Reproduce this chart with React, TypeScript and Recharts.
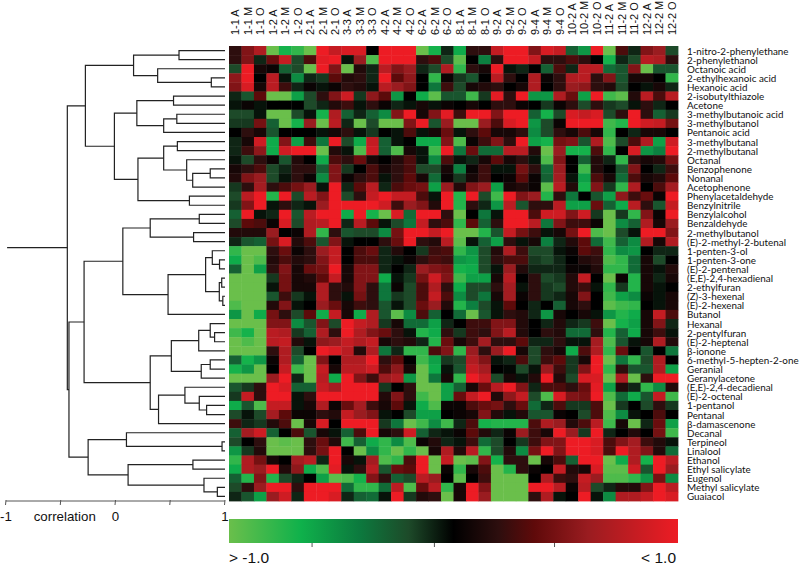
import React from "react";
import { ScatterChart, Scatter, BarChart, Bar, XAxis, YAxis } from "recharts";

const COLUMNS = [
  "1-1 A", "1-1 M", "1-1 O", "1-2 A", "1-2 M", "1-2 O", "2-1 A", "2-1 M", "2-1 O",
  "3-3 A", "3-3 M", "3-3 O", "4-2 A", "4-2 M", "4-2 O", "6-2 A", "6-2 M", "6-2 O",
  "8-1 A", "8-1 M", "8-1 O", "9-2 A", "9-2 M", "9-2 O", "9-4 A", "9-4 M", "9-4 O",
  "10-2 A", "10-2 M", "10-2 O", "11-2 A", "11-2 M", "11-2 O", "12-2 A", "12-2 M", "12-2 O",
];

const COMPOUNDS = [
  "1-nitro-2-phenylethane", "2-phenylethanol", "Octanoic acid", "2-ethylhexanoic acid", "Hexanoic acid",
  "2-isobutylthiazole", "Acetone", "3-methylbutanoic acid", "3-methylbutanol", "Pentanoic acid",
  "3-methylbutanal", "2-methylbutanal", "Octanal", "Benzophenone", "Nonanal",
  "Acetophenone", "Phenylacetaldehyde", "Benzylnitrile", "Benzylalcohol", "Benzaldehyde",
  "2-methylbutanol", "(E)-2-methyl-2-butenal", "1-penten-3-ol", "1-penten-3-one", "(E)-2-pentenal",
  "(E,E)-2,4-hexadienal", "2-ethylfuran", "(Z)-3-hexenal", "(E)-2-hexenal", "Butanol",
  "Hexanal", "2-pentylfuran", "(E)-2-heptenal", "β-ionone", "6-methyl-5-hepten-2-one",
  "Geranial", "Geranylacetone", "(E,E)-2,4-decadienal", "(E)-2-octenal", "1-pentanol",
  "Pentanal", "β-damascenone", "Decanal", "Terpineol", "Linalool",
  "Ethanol", "Ethyl salicylate", "Eugenol", "Methyl salicylate", "Guaiacol",
];

// correlation values in tenths, one row per compound
const VALUES = [
  [2, 5, 7, -10, -7, -8, -10, 10, 8, 9, 9, 0, 10, 10, 10, -10, -7, -1, -6.5, 2, 2, 8, 10, 10, 5, 9, 8, -3, -5.5, 10, -10, 3, -1, 5, 6, -2],
  [2, 5, -1, 4, 8, -2, 3, 9.5, 10, -0.5, 6, -9, 10, 10, 10, 2, 3, -2, -9.5, 0, -4.5, 2, 10, 10, 8, 2, 2, 3, 2, 0, -7, -1, -2, 7.5, 7, 2],
  [-2, 10, 1, 0.5, -3, -2, -10, 10, 5, -10, 1.5, -1, 7.5, 5, 6, -1, -2, 7, -8, 2, 1, 10, -0.5, -1, 0, -3, 3, -1, 7.5, 7.5, -3.5, -2.5, 5, -10, -2.5, -2.5],
  [5.5, 10, 0, 7.5, -0.5, -5, -1, -1.5, 3.5, 1.5, 2, -1, 10, 3.5, 5.5, 0, -8, 0.5, -1.5, -2.5, 0, 7.5, 2, 0, 7, 0.5, 2, 7, 7.5, 2, 5, -2.5, 1, 1, 0, -8],
  [5, 9, 1, 7.5, 2.5, -1, 0.5, -0.5, 0.5, 2, 1.5, -0.5, 7.5, 6, 5, 0, -4, 2.5, -2, 1, 1.5, 2, 0, 1, 7, 0, 2, 6, 5.5, 2, 1.5, -2, 0, -0.5, 1, -1],
  [-1, -2.5, 3.5, -10, -10, -6, -2, 2, 5, 8.5, -1.5, 5.5, 3.5, -5.5, 0, -6.5, -9.5, -2.5, -2.5, -8.5, -1.5, 9.5, 2, 10, -5.5, -5.5, 7, 4, -6, 10, -8.5, -9.5, 1.5, 7.5, 3, 7.5],
  [-0.5, 0.5, -0.5, 0, 0, 0, -2, -1, 1.5, 2.5, -0.5, 2, 0.5, -1, -0.5, 1, -0.5, 0.5, 0, 1, 0, 2, 2, 0.5, 0, -1.5, 0.5, 2, -2, 2, -1.5, -2, -0.5, 2, -1, 0],
  [-2, -2, -0.5, -10, -10, -2, -0.5, -7, 7, -3, -1, -3, -5, 5, 10, 1, 5, 9.5, 2.5, 10, 10, 5, 10, 10, -3, -7, -2, 9, 8, 9, -2, 2, 10, 2, -3, -1.5],
  [-1.5, -1.5, 4.5, -3, -10, -7, 6, -10, 7.5, -1, -10, -2, -10, -10, 5, 10, -2.5, 6, -10, -10, 6, 3, 9, 10, -5.5, -2, 0.5, 10, 10, 10, -8.5, -7.5, 10, 8.5, 8, 4.5],
  [0, 2, 1, -2.5, 0, 0, 0, -0.5, 1, 2, -0.5, -1.5, 0, -0.5, 3, -0.5, 1, 4, -0.5, 2, 3.5, 1, 1, 2, -5, -2, 2, 1, 3, 1, -8, 0, -1, 1, 1, 0],
  [-1, 1, 8.5, -6.5, 5, -6, 2.5, -4, 10, -2, -6.5, 8, -3, -0.5, 0, -6.5, -6.5, 5, -9, 0.5, 2.5, 5, 2, 10, -6, -7, 4.5, 5, -2.5, 7, -9, -2, 3, 7, -6, 8.5],
  [-1, 2.5, 5.5, -6.5, 8.5, 10, 10, -10, 1.5, -0.5, -9, 8.5, -3, -9, 1, -0.5, -8.5, 10, -4, 4, -3.5, -3.5, 7.5, 7.5, 1.5, -10, 6, -7, -7, 3, -8, 0, 9, -5.5, -4.5, 10],
  [-0.5, -2, 2, 0.5, -2.5, 1.5, 0, -6.5, 3, 2, 4, 1, 0, 1.5, 3, -0.5, -5, 3, -0.5, -1, 1, 3.5, 1, 2, -0.5, -9, 5, 0, -3, 1.5, -1, -8, 2, 1, 1.5, 4.5],
  [1, 2, 3, -2, -1, 2, 2, -3, 5, -1.5, 0, 3, 1, 2, 3, -2, -2, 1, -4.5, 0.5, 2.5, -0.5, -0.5, 4.5, 2, -3.5, 6, 0, -8.5, 1.5, 0, -2.5, 5, 0, -1, 2.5],
  [1.5, 5, 6, -2, -0.5, 2, 0.5, -5, 5, 0.5, 2, 3, -0.5, 2, 3.5, 1, -3.5, 0.5, -1.5, 1, 2.5, 0, 0.5, 3.5, 0.5, -3, 6.5, -0.5, -6, 3, 1, -3.5, 3, 1, 1.5, 3.5],
  [-1.5, 2, 6.5, 2, 3, 4.5, 6, -0.5, 10, -1, 3.5, 7.5, -1, 3, 4, 4.5, -6, 6, 1.5, 5, 6, -6, 1, 1.5, 0.5, -9.5, 7.5, 1.5, -7, 5, -1.5, -8, 7, 0, 3, 6.5],
  [-2, 7.5, 10, -7.5, 10, -2, 7.5, 5, 10, -2, 2, 8, 10, 8, 8, 3, -0.5, 10, -7.5, 10, -2, -8.5, 10, 5, 6, -7.5, 2, -4, 0, -2.5, -6, 5.5, 2.5, 4, 0.5, 10],
  [-1.5, 5, 10, -0.5, 2, -1, -0.5, 6, 10, 10, 10, 10, 8.5, 2.5, 6, 5, 1.5, 10, -7.5, 2, -1, -5.5, 7.5, -2.5, 2, 2, 7.5, -6, -6, 4, -3, -6.5, 7.5, 2, -2.5, 8],
  [-3, 10, -0.5, -1, 10, -2.5, 7.5, 10, 10, -6.5, 10, -7, -10, 9, -3.5, 10, 10, 2, -10, 0, -4, -0.5, 10, 10, 3, 8.5, 8.5, 5, 8.5, -1.5, -10, -1.5, -8, 5, 0.5, 10],
  [-2, 3.5, 3, 0.5, 9, -2, 7, 7.5, 10, -1, 7.5, 3.5, -0.5, -2, -4, 8, 2, 3, -8, 3.5, -3, 2, 10, 10, 7.5, -4, 5, 2.5, 2.5, 0.5, -10, -5, -3, 7, 1, 6],
  [1.5, 1.5, 1.5, 6, 0, 0.5, 7, -8, 2, -2.5, -2, -2, -5, 4.5, 10, 10, 8, 10, -10, -10, -7.5, -2.5, 8, 4.5, 2.5, -0.5, 1, 4.5, 10, -9, -10, -2, -0.5, 10, 10, 5],
  [-1, -2.5, -3, 4.5, 9, 1.5, 3, -2.5, 5, -0.5, 0, 0, 2, 4, 10, 2, 1.5, 7.5, -9.5, -0.5, -3, -6, 2, -0.5, 1, -4.5, -1, 1.5, 3.5, -3.5, -8.5, -3, -5, 7, 1, 7],
  [-8, -10, -10, 2, 4, 0.5, 2, 6, 8, 0, 3, 4, -1, 1.5, 0, -1.5, 2.5, 3, -8, -5.5, -2, 1.5, 7, 2.5, -2, -2, -0.5, 0.5, 3.5, 2.5, -8, -5, -5.5, 0, -1, -1],
  [-6.5, -10, -9, 1.5, 3, 1.5, 2, 5, 8, 0, 3, 3, -1, -0.5, 0.5, 2, 3, 2.5, -5.5, -6, -2, 2, 3, 3, -1.5, -2, -1, 0, 1.5, 2, -9, -8, -3.5, 1, -2, 0],
  [-3, -10, -6, 2, 5, 1, 4, 4.5, 10, 1, 5, 5, -1, 0, -1, 6, 5, 4.5, -7, -6.5, -2, -0.5, 6, 1.5, -1, -1, -1, 0.5, 0.5, 1.5, -8, -8, -3.5, 1, -0.5, 1.5],
  [-10, -10, -10, -1.5, 4.5, 1, 1.5, 3.5, 8, 1, 5, 5, -6.5, -0.5, -1.5, 4.5, 8.5, 5, -8.5, -6, -6, 1, 7.5, 0, 2, -2, -1.5, 1.5, 8, 0, -10, 0.5, -7.5, 1, -1, 1],
  [-10, -10, -10, -0.5, 4.5, 1, 1, 7, 2, 1.5, 5, 2, -4, 0.5, -2, 3, 7, 2, -6.5, -2, -2, 2, 6.5, -0.5, 2, -1.5, -2, 1.5, 2.5, -0.5, -8, -1.5, -7.5, 1, -0.5, 0],
  [-10, -10, -10, -2.5, 2.5, -1.5, -0.5, 7, 2, -0.5, 4.5, 2, -4, -1.5, -2, 3, 8, 3, -5, -2, -4, 1, 6.5, 0.5, 2, -1.5, -1, 1, 5, 0, -8.5, -6, -5, 0.5, -0.5, 1],
  [-9, -10, -10, 1.5, 5, -0.5, 0, 6, 4, 1, 2.5, 2, -2.5, -0.5, -2, 4, 6, 1.5, -7.5, -4.5, -2, -0.5, 3.5, 0, -1, 0, -3, 1, 2, 0, -9.5, -8.5, -8, 0, -0.5, 1],
  [-5.5, -10, -6.5, 4.5, 2, -2, 3.5, -6.5, 8, 1, -6.5, 7, -2.5, -9.5, -5, 3, -3, 0, -3.5, -10, -2.5, -0.5, 2, 1.5, -1, -5.5, 1, 0, 1, -0.5, -5.5, -7.5, -6.5, 1, 8, 3],
  [-10, -10, -10, 5, 5, -5, -2.5, 5, -2, 10, 8, 7, -1.5, 1, -3.5, -3.5, -6, -1, 0, 2.5, 2.5, 5, 5, 1.5, 0, -1, 1.5, -1, -1.5, 2.5, -10, -7, -6, 1, 5, -1],
  [-8.5, -7, -10, 7.5, 7, -1.5, -3, 7, 2, 10, 7, 5, 4, 2, -0.5, -7.5, -6.5, 2, -1.5, 2.5, 2, 5, 7.5, 1.5, 0, 2, 1.5, -3.5, -3.5, 2, -7.5, -3, -6.5, 1, 2.5, -0.5],
  [-10, -9, -10, 7.5, 8, 1.5, -0.5, 5.5, 6, 8, 7, 8, 1, 2, 1.5, -1, -7.5, 4, 1, 2.5, 6.5, 2, 2, 3.5, -1, -1, 2, -0.5, -0.5, 6.5, -9, -2.5, -0.5, 1, 7, 1.5],
  [-10, -10, -10, 2, 7, -2, 0, 10, 9, 7.5, 1.5, 7, -4, -1, -8, -8, 3, 5, -8, 6, 2, 6, 10, 1, -2, 2, 1, -6.5, 3, 7, -8, 4, 0, -2.5, 0, -4],
  [-3, -7, -5.5, 0.5, 7, -3, -10, 5, 0, 7, 7, 10, 2, 3.5, 0, -8.5, -6, -1.5, -2, 7, 5, -0.5, -1, 3, -2, 2.5, 3.5, -1.5, 1, 10, -10, -4, -8, -2, 7, 0],
  [-7, -5.5, -10, 0, 8, -8.5, -10, 8, 1, 7.5, 7.5, 8.5, 3, 5.5, 1, -10, -6.5, -0.5, -2.5, 8, 6.5, 0, -0.2, -2, -0.5, 6, 2.5, -1.5, 5, 10, -8, 2, -2.5, -2.5, 7, -6],
  [-10, -10, -10, 6, 10, -1, -10, 7.5, -6.5, 10, 5, 2.5, 6, 7, -5.5, -10, -4, 1, -8, 10, 8, -2, 1, -0.5, 1.5, 10, 1.5, -2, 9, 9, -10, 7, -10, 2, 10, 10],
  [-2.5, -1.5, 2, 10, 9, -3, -3, 8, 6.5, 10, 10, 10, -1.5, 0, 2, -10, -10, -6, -3, 1, 4, 7.5, 10, 5, -1, 3, 3, 2, 4, 9.5, -6, 1.5, -1, -8, -5, 1.5],
  [-1.5, 8, 2, 10, 10, -0.5, 2, 10, 10, 10, 10, 10, 1.5, 5, 2, -8.5, -10, -6, 4, 8, 10, 1.5, 5.5, 8, -2, -9, 9, 5, 4.5, 10, -9, -3.5, -6.5, -2.5, 8, -8.5],
  [-6.5, -2.5, -9, 8, 8, -0.5, 1, 7, 0.5, 4, 6.5, 2.5, 1, 3.5, -0.5, -6.5, -9, 0.5, 0.5, 3, 4, 4.5, 2, 4, -3.5, -1, 3, -1.5, -1.5, 3, -10, -1.5, 0, -2, 2, -1.5],
  [-2, -0.5, -2, 6.5, 3.5, 0.5, 0.5, 2, 1.5, 8, 6, 5, -0.5, 0, -2, -6, -6, 0, 0.5, 1, 5, 1.5, -0.5, 1.5, -2.5, -2.5, 0.5, 0, -2, 3, -9, -5, -0.5, 0, 3, 0],
  [2.5, -1, -1.5, 1.5, 3, -10, 1, 9, 0, 10, 10, 10, -1.5, -4, -10, -8.5, -5, -8.5, -1, 3, -7, -7.5, -7.5, -7.5, 3, 7, 6, 1.5, 3, 7.5, -8.5, 1, -10, -1, 4, -6],
  [-3, 6.5, 8.5, -3, 0, 3, -2.5, 1, -0.5, -3, 3, 10, 1, 2, 8.5, -3, -1, -0.5, 0.5, 3.5, 1.5, -1, 0.5, 6, 2.5, 1, 10, 6, -1.5, 10, -1, 0, 1.5, 0, 4.5, -8.5],
  [-2, 0, 2, -10, -9.5, -10, 2, 4, 1.5, -8.5, -3, -6.5, -8, -5, -9, 0.5, 1.5, -1, -0.5, 2.5, -3.5, -2, 0, -1.5, 2.5, 5, 5, 10, 10, 9, 3, 5, 6.5, 2.5, 1.5, -0.5],
  [-5.5, -1.5, 1.5, -10, -10, -10, 2, 4.5, 10, 0, -10, -5, -8, -10, -8, -10, 1, 7, 1.5, 7.5, -8, -2, 1.5, -5, 4.5, 10, 5, 10, 10, 9, 3, 10, 7, 5, 1.5, -3.5],
  [-8, 7, 4.5, 1, 0, 6.5, 7.5, -1, 10, 1, -0.5, 6.5, -9, -8, 3, 10, -10, 8, -10, -9.5, 5, -7, 2, 2, -10, 1, 3, -3, 10, 10, -10, -6.5, 7, -7, 10, 7.5],
  [-6.5, 7, 6, 10, 1.5, 5.5, -6.5, -9, 9.5, -0.5, 2, 7.5, -2.5, 4, 3.5, 10, -10, 0.5, -8, 1, 3, -10, -7.5, 2, 0.5, 0, 8, 1.5, 1, 9, -9.5, -9.5, 8.5, -2.5, 10, 6],
  [-3, -7.5, 5, -7.5, -2, -1, 0, -6, -9.5, -9, -7, 5, 2, -3, -2, 7.5, 6, 0, -9.5, 0, 2.5, -10, -10, -10, 0, 7, 2.5, 2, 8, 6, -9, -9, -8, -5.5, 4.5, -5],
  [-2, 2, 6, 10, 10, 2, 10, 10, 10, -3.5, -8, -8, -3.5, 7.5, -9, 4, 7.5, -8, 1, 10, 5, -10, -10, -10, 10, 10, 7.5, 0.5, 7.5, -2, -1, 1.5, 1.5, 5, 10, 7.5],
  [-1, -2.5, -6, 6, 8.5, -1, 10, 10, 9, -1, -3, -3.5, -0.5, 10, -1.5, 1.5, 2, -10, 1, 10, 6, -10, -10, -10, 2, 7, -0.5, 0, 10, -0.5, -5, 7, 7, 8, 10, 9],
];

// dendrogram as nested [correlation, upper branch, lower branch]; a bare number is a row (1-based)
type Branch = number | [number, Branch, Branch];
const CLUSTER_A: Branch = [-0.275,
  [0.165, [0.58, 1, 2], [0.385, 3, [0.875, 4, 5]]],
  [-0.01,
    [0.195, [0.53, 6, 7], [0.44, [0.56, 8, 9], 10]],
    [0.205, [0.44, [0.565, 11, 12], [0.65, 13, [0.705, [0.865, 14, 15], 16]]], [0.675, 17, 18]],
  ],
];
const CLUSTER_B: Branch = [-0.287,
  [0.067,
    [0.317, [0.765, 19, 20], [0.713, 21, 22]],
    [0.48, [0.823, [0.884, 23, [0.95, 24, 25]], [0.948, [0.97, 26, 27], [0.98, 28, 29]]], 30],
  ],
  [0.317,
    [0.51, [0.76, [0.865, 31, [0.905, 32, 33]], 34], [0.783, [0.865, 35, 36], 37]],
    [0.393, [0.634, 38, [0.765, 39, [0.832, 40, 41]]], 42],
  ],
];
const CLUSTER_C: Branch = [-0.25,
  [0.1, 43, [0.973, 44, 45]],
  [0.115, [0.707, 46, 47], [0.808, 48, [0.93, 49, 50]]],
];
const TREE: Branch = [-0.44, CLUSTER_A, [-0.425, CLUSTER_B, CLUSTER_C]];
const ROOT_STUB = -0.99;

const CORR_TICKS = [-1, -0.5, 0, 0.5, 1];
const SCALE_TICKS = [-1, -0.63, -0.085, 0.45, 1];
const SCALE_ENDS = ["> -1.0", "< 1.0"];

const RAMP_POS = [0, 0.16, 0.29, 0.4, 0.5, 0.6, 0.68, 0.8, 1];
const RAMP_RGB = [
  [106, 191, 75], [15, 177, 75], [12, 122, 62], [29, 74, 41], [0, 0, 0],
  [45, 14, 14], [95, 10, 10], [154, 28, 32], [237, 28, 36],
];

const toHex = (c: number[]) => "#" + c.map((v) => Math.round(v).toString(16).padStart(2, "0")).join("");

function cellColor(v: number) {
  const p = (v + 1) / 2;
  let i = 0;
  while (i < RAMP_POS.length - 2 && p > RAMP_POS[i + 1]) i++;
  const t = (p - RAMP_POS[i]) / (RAMP_POS[i + 1] - RAMP_POS[i]);
  return toHex(RAMP_RGB[i].map((c, k) => c + (RAMP_RGB[i + 1][k] - c) * t));
}

const cells = VALUES.flatMap((row, r) => row.map((v, c) => ({ col: c + 0.5, row: r + 0.5, value: v / 10 })));

// every merge becomes one bracket polyline
const brackets: { x: number; y: number }[][] = [];
function walk(b: Branch): { x: number; y: number } {
  if (typeof b === "number") return { x: 1, y: b - 0.5 };
  const [h, up, low] = b;
  const a = walk(up);
  const c = walk(low);
  brackets.push([a, { x: h, y: a.y }, { x: h, y: c.y }, c]);
  return { x: h, y: (a.y + c.y) / 2 };
}
const rootPos = walk(TREE);
brackets.push([{ x: ROOT_STUB, y: rootPos.y }, rootPos]);

const W = 800;
const H = 565;
const PLOT_LEFT = 229;
const PLOT_RIGHT = 678;
const PLOT_TOP = 46;
const PLOT_BOTTOM = 501;
const CELL_W = (PLOT_RIGHT - PLOT_LEFT) / COLUMNS.length;
const CELL_H = (PLOT_BOTTOM - PLOT_TOP) / COMPOUNDS.length;
const ARIAL = "'Liberation Sans', Arial, sans-serif";

const box = (left: number, top: number): React.CSSProperties => ({ position: "absolute", left, top });
const NoDot = () => null;

function HeatCell(props: any) {
  const { cx, cy, payload } = props;
  return <rect x={cx - CELL_W / 2} y={cy - CELL_H / 2} width={CELL_W + 0.4} height={CELL_H + 0.4} fill={cellColor(payload.value)} />;
}

function ColumnTick({ x, payload }: any) {
  return (
    <text x={x} y={35} transform={`rotate(-90 ${x} 35)`} dominantBaseline="central" fontFamily={ARIAL} fontSize={11} fill="#111">
      {COLUMNS[Math.floor(payload.value)]}
    </text>
  );
}

function RowTick({ y, payload }: any) {
  return (
    <text x={687} y={y} dominantBaseline="central" fontFamily="Lato, sans-serif" fontSize={9.85} fill="#111">
      {COMPOUNDS[Math.floor(payload.value)]}
    </text>
  );
}

function CorrTick({ x, y, payload }: any) {
  const label = payload.value === -0.5 ? "correlation" : payload.value === 0.5 ? "" : String(payload.value);
  const shift = payload.value === -0.5 ? 4 : 0;
  return (
    <g>
      <line x1={x} x2={x - 0.5} y1={y - 9} y2={y - 4} stroke="#555" />
      <text x={x + shift} y={y + 7} textAnchor="middle" dominantBaseline="central" fontFamily={ARIAL} fontSize={13.3} fill="#111">{label}</text>
    </g>
  );
}

function ScaleTick({ x, y, payload }: any) {
  if (payload.value === -1 || payload.value === 1) {
    const isLeft = payload.value === -1;
    return (
      <text x={isLeft ? x : x - 2} y={y + 6} textAnchor={isLeft ? "start" : "end"} dominantBaseline="central" fontFamily={ARIAL} fontSize={15.5} fill="#111">
        {isLeft ? SCALE_ENDS[0] : SCALE_ENDS[1]}
      </text>
    );
  }
  return <line x1={x} x2={x} y1={y - 8} y2={y - 4} stroke="#555" />;
}

export default function App() {
  return (
    <div style={{ position: "absolute", left: 0, top: 0, width: W, height: H, background: "#fff", overflow: "hidden" }}>
      <div style={box(0, 0)}>
        <ScatterChart width={W} height={H} margin={{ top: 0, right: 0, bottom: H - PLOT_BOTTOM, left: PLOT_LEFT }}>
          <XAxis
            xAxisId={0}
            orientation="top"
            type="number"
            dataKey="col"
            domain={[0, COLUMNS.length]}
            ticks={COLUMNS.map((_, i) => i + 0.5)}
            interval={0}
            height={PLOT_TOP}
            axisLine={false}
            tickLine={false}
            tick={<ColumnTick />}
          />
          <YAxis
            yAxisId={0}
            orientation="right"
            type="number"
            dataKey="row"
            reversed
            domain={[0, COMPOUNDS.length]}
            ticks={COMPOUNDS.map((_, i) => i + 0.5)}
            interval={0}
            width={W - PLOT_RIGHT}
            axisLine={false}
            tickLine={false}
            tick={<RowTick />}
          />
          <Scatter data={cells} shape={<HeatCell />} isAnimationActive={false} />
        </ScatterChart>
      </div>

      <div style={box(0, 0)}>
        <ScatterChart width={232} height={H} margin={{ top: PLOT_TOP, right: 7, bottom: H - PLOT_BOTTOM - 24, left: 6 }}>
          <XAxis
            type="number"
            dataKey="x"
            domain={[-1, 1]}
            ticks={CORR_TICKS}
            interval={0}
            height={24}
            stroke="#555"
            tickLine={false}
            tick={<CorrTick />}
          />
          <YAxis type="number" dataKey="y" reversed domain={[0, COMPOUNDS.length]} hide />
          {brackets.map((pts, i) => (
            <Scatter key={i} data={pts} line={{ stroke: "#222", strokeWidth: 1.2 }} shape={<NoDot />} isAnimationActive={false} />
          ))}
        </ScatterChart>
      </div>

      <div style={box(0, 519)}>
        <BarChart
          width={W}
          height={46}
          layout="vertical"
          data={[{ name: "scale", span: [-1, 1] }]}
          margin={{ top: 0, right: W - PLOT_RIGHT, bottom: 0, left: PLOT_LEFT }}
          barCategoryGap={0}
        >
          <defs>
            <linearGradient id="corrRamp" x1="0" x2="1" y1="0" y2="0">
              {RAMP_POS.map((p, i) => (
                <stop key={p} offset={p} stopColor={toHex(RAMP_RGB[i])} />
              ))}
            </linearGradient>
          </defs>
          <XAxis
            type="number"
            domain={[-1, 1]}
            ticks={SCALE_TICKS}
            interval={0}
            height={22}
            axisLine={false}
            tickLine={false}
            tick={<ScaleTick />}
          />
          <YAxis type="category" dataKey="name" hide />
          <Bar dataKey="span" fill="url(#corrRamp)" isAnimationActive={false} />
        </BarChart>
      </div>
    </div>
  );
}
